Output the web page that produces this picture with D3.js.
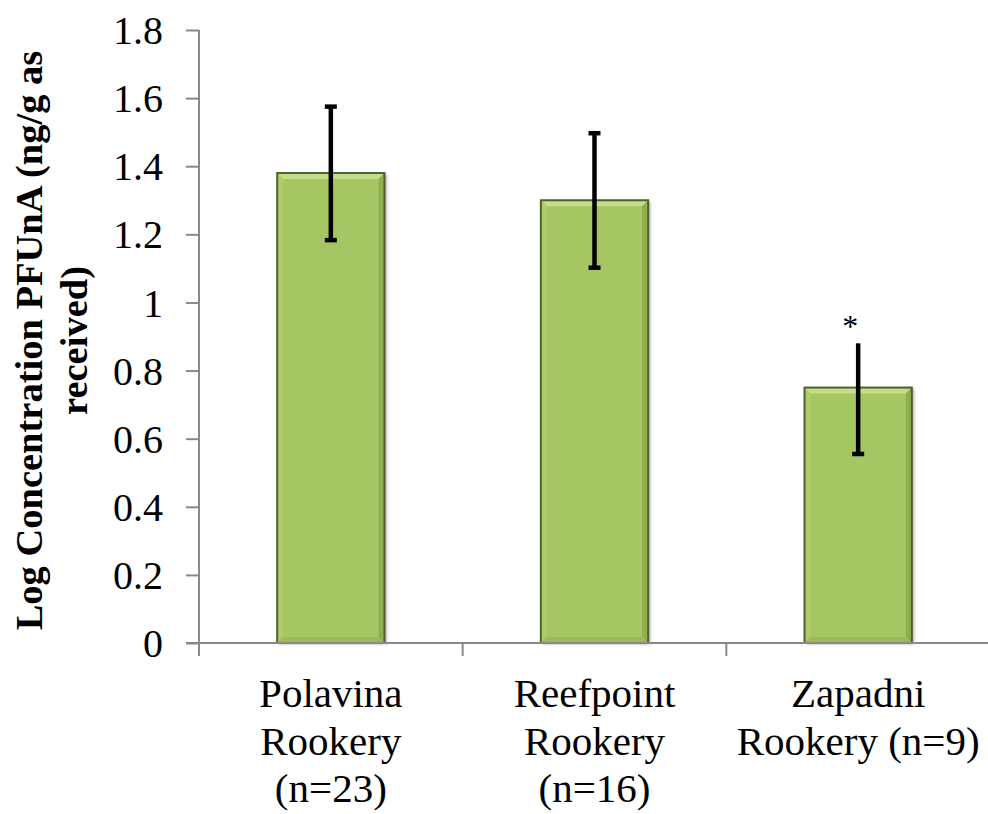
<!DOCTYPE html>
<html>
<head>
<meta charset="utf-8">
<script src="https://cdn.jsdelivr.net/npm/d3@7"></script>
<style>
  html, body { margin: 0; padding: 0; background: #ffffff; }
  svg { display: block; }
</style>
</head>
<body>
<svg id="chart" width="988" height="814"></svg>
<script>
// ---- data ----
const categories = ["Polavina Rookery (n=23)", "Reefpoint Rookery (n=16)", "Zapadni Rookery (n=9)"];
const categoryLines = [["Polavina", "Rookery", "(n=23)"], ["Reefpoint", "Rookery", "(n=16)"], ["Zapadni", "Rookery (n=9)"]];
const values = [1.38, 1.30, 0.75];
const errPlus = [0.195, 0.197, 0.13];
const errMinus = [0.197, 0.198, 0.195];
const upperCap = [true, true, false];
const markers = ["", "", "*"];
const yTicks = [0, 0.2, 0.4, 0.6, 0.8, 1, 1.2, 1.4, 1.6, 1.8];
const yTitleLines = ["Log Concentration PFUnA (ng/g as", "received)"];

// ---- layout ----
const FONT = "'Liberation Serif', 'Times New Roman', serif";
const svg = d3.select("#chart");
const x0 = 199, x1 = 990, yTop = 30, yBottom = 643;

const x = d3.scaleBand().domain(categories).range([x0, x1]).padding(0);
const y = d3.scaleLinear().domain([0, 1.8]).range([yBottom, yTop]);
const barW = x.bandwidth() * 0.407;

const defs = svg.append("defs");
const f = defs.append("filter").attr("id", "shadow").attr("x", "-10%").attr("y", "-10%").attr("width", "130%").attr("height", "130%");
f.append("feDropShadow").attr("dx", 2).attr("dy", 1).attr("stdDeviation", 1.5).attr("flood-color", "#000").attr("flood-opacity", 0.35);

// bars
const bars = svg.append("g");
categories.forEach((c, i) => {
  const cx = x(c) + x.bandwidth() / 2;
  const L = cx - barW / 2, R = cx + barW / 2;
  const T = y(values[i]), B = y(0);
  const g = bars.append("g");
  g.append("rect").attr("x", L).attr("y", T).attr("width", barW).attr("height", B - T)
    .attr("fill", "#A6C664").attr("filter", "url(#shadow)");
  const bv = 6;
  g.append("polygon").attr("points", [[L, T], [R, T], [R - bv, T + bv], [L + bv, T + bv]].map(p => p.join(",")).join(" "))
    .attr("fill", "#C6DD8E");
  g.append("polygon").attr("points", [[L, T], [L + bv, T + bv], [L + bv, B - bv], [L, B]].map(p => p.join(",")).join(" "))
    .attr("fill", "#AECB6D");
  g.append("polygon").attr("points", [[R, T], [R - bv, T + bv], [R - bv, B - bv], [R, B]].map(p => p.join(",")).join(" "))
    .attr("fill", "#8FAE4E");
  g.append("polygon").attr("points", [[L, B], [L + bv, B - bv], [R - bv, B - bv], [R, B]].map(p => p.join(",")).join(" "))
    .attr("fill", "#9BBA5A");
  g.append("rect").attr("x", L).attr("y", T).attr("width", barW).attr("height", B - T)
    .attr("fill", "none").attr("stroke", "#4F6228").attr("stroke-width", 2);
});

// axes
const axisColor = "#898989";
const yAxis = d3.axisLeft(y).tickValues(yTicks).tickSize(13).tickFormat(d => d3.format("")(d));
const gy = svg.append("g").attr("transform", `translate(${x0},0)`).call(yAxis)
  .attr("font-family", FONT);
gy.select(".domain").attr("stroke", axisColor).attr("stroke-width", 2).attr("d", `M0,${yTop}V${yBottom + 13}`);
gy.selectAll(".tick line").attr("stroke", axisColor).attr("stroke-width", 2);
gy.selectAll(".tick text").attr("font-size", 40).attr("font-family", FONT)
  .attr("x", -36).attr("dy", "0.34em").attr("fill", "#000");

// x axis line and boundary ticks
const gx = svg.append("g");
gx.append("line").attr("x1", x0 - 13).attr("x2", x1).attr("y1", yBottom).attr("y2", yBottom)
  .attr("stroke", axisColor).attr("stroke-width", 2);
categories.forEach((c, i) => {
  if (i === 0) return;
  gx.append("line").attr("x1", x(c)).attr("x2", x(c)).attr("y1", yBottom).attr("y2", yBottom + 13)
    .attr("stroke", axisColor).attr("stroke-width", 2);
});

// category labels
categories.forEach((c, i) => {
  const cx = x(c) + x.bandwidth() / 2;
  const t = svg.append("text").attr("text-anchor", "middle").attr("font-size", 41)
    .attr("font-family", FONT).attr("fill", "#000");
  categoryLines[i].forEach((ln, j) => {
    t.append("tspan").attr("x", cx).attr("y", 707 + j * 47.5).text(ln);
  });
});

// error bars
const eb = svg.append("g").attr("stroke", "#000");
categories.forEach((c, i) => {
  const cx = x(c) + x.bandwidth() / 2;
  const yt = y(values[i] + errPlus[i]), yb = y(values[i] - errMinus[i]);
  eb.append("line").attr("x1", cx).attr("x2", cx).attr("y1", yt).attr("y2", yb).attr("stroke-width", 4.5);
  if (upperCap[i]) eb.append("line").attr("x1", cx - 6).attr("x2", cx + 6).attr("y1", yt).attr("y2", yt).attr("stroke-width", 4.5);
  eb.append("line").attr("x1", cx - 6).attr("x2", cx + 6).attr("y1", yb).attr("y2", yb).attr("stroke-width", 4.5);
  if (markers[i]) {
    svg.append("text").attr("x", cx - 8).attr("y", yt - 6).attr("text-anchor", "middle")
      .attr("font-size", 32).attr("font-family", FONT).attr("fill", "#000").text(markers[i]);
  }
});

// y title
const ytl = svg.append("text").attr("transform", `translate(42,${(yTop + yBottom) / 2 + 4}) rotate(-90)`)
  .attr("text-anchor", "middle").attr("font-size", 38.5).attr("font-weight", "bold")
  .attr("font-family", FONT).attr("fill", "#000");
yTitleLines.forEach((ln, j) => {
  ytl.append("tspan").attr("x", 0).attr("y", j * 45).text(ln);
});
</script>
</body>
</html>
